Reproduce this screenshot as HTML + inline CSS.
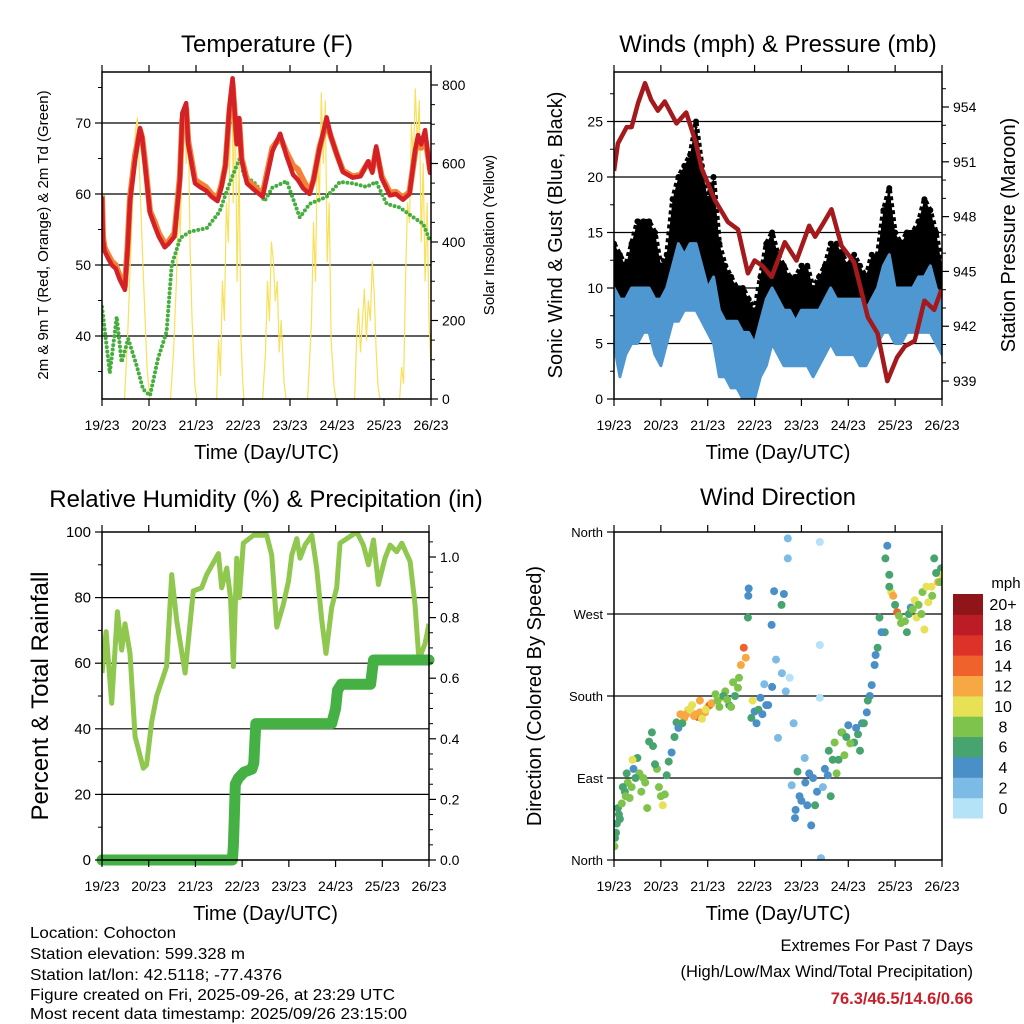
<!DOCTYPE html>
<html><head><meta charset="utf-8">
<style>
html,body{margin:0;padding:0;background:#fff;}
svg{display:block;font-family:"Liberation Sans",Arial,sans-serif;}
</style></head>
<body>
<svg id="fig" width="1024" height="1024" viewBox="0 0 1024 1024" xmlns="http://www.w3.org/2000/svg">
<rect width="1024" height="1024" fill="#fff"/>
<defs>
<clipPath id="c1"><rect x="102" y="72" width="329" height="327"/></clipPath>
<clipPath id="c2"><rect x="614" y="72" width="328" height="327"/></clipPath>
<clipPath id="c3"><rect x="102" y="532" width="327" height="328"/></clipPath>
<clipPath id="c4"><rect x="614" y="532" width="328" height="328"/></clipPath>
</defs>
<g id="layer"></g>
<text x="267" y="52" font-size="24" text-anchor="middle">Temperature (F)</text>
<text x="778" y="52" font-size="24" text-anchor="middle">Winds (mph) &amp; Pressure (mb)</text>
<text x="266" y="507" font-size="24" text-anchor="middle">Relative Humidity (%) &amp; Precipitation (in)</text>
<text x="778" y="505" font-size="24" text-anchor="middle">Wind Direction</text>
<g font-size="15.5">
<text x="30" y="938" textLength="146" lengthAdjust="spacingAndGlyphs">Location: Cohocton</text>
<text x="30" y="959" textLength="215" lengthAdjust="spacingAndGlyphs">Station elevation: 599.328 m</text>
<text x="30" y="980" textLength="252" lengthAdjust="spacingAndGlyphs">Station lat/lon: 42.5118; -77.4376</text>
<text x="30" y="1000" textLength="365" lengthAdjust="spacingAndGlyphs">Figure created on Fri, 2025-09-26, at 23:29 UTC</text>
<text x="30" y="1019" textLength="377" lengthAdjust="spacingAndGlyphs">Most recent data timestamp: 2025/09/26 23:15:00</text>
</g>
<g font-size="16.5" text-anchor="end">
<text x="973" y="951">Extremes For Past 7 Days</text>
<text x="973" y="977">(High/Low/Max Wind/Total Precipitation)</text>
<text x="973" y="1004" fill="#c8202a" font-weight="bold">76.3/46.5/14.6/0.66</text>
</g>
</svg>
<script>
// ---------- DATA ----------
const dayLabels = ["19/23","20/23","21/23","22/23","23/23","24/23","25/23","26/23"];
const tempTimes = [0,0.5,1.3,3,5,7,9,11.7,13,14.3,16.9,19.4,20.5,22,24.5,27,29,32,34,37,39.8,41,43,44,47.5,50,53,56,59,61,63,65,66.7,68.8,70,71.3,74,78,82,87,91,94,97.6,100,102.7,106,108,111,114.7,117,120,123,128,132,136,138,140,142.8,147,150,153.7,157,160,161.4,163,165,167.5,168];
const temp2m = [59.6,53.5,52,51,50,49.5,48,46.5,52,59,64.8,69.3,68,64,57.3,55.4,54,52.5,53,54,62,71.4,72.8,67,61.5,61,60.5,59.6,59,61,64,72,76.3,67,70.7,64.8,61.5,60.5,59.6,66,68.5,65.5,62.7,62,60.8,60,62,66.3,70.8,68,65.5,63.1,62.3,62.5,64.6,63,66.7,62.2,59.8,60,59.2,60,66.3,68.3,67,69,63,63];
const temp9m = [59.8,54,52.5,51.5,50.5,50,48.5,47,52.5,59.5,65.5,69,68,64.5,57.6,56,54.5,53,53.3,54.5,62.5,70.5,72,67.5,62,61.5,61,60,59.4,61.3,64,71.5,75.5,67.5,70.5,65,62,61,60,66.5,68,66,64,63.5,62,60.3,62,66.5,70,68,65.5,63.3,62.5,62.7,64.5,63.3,66.3,62.5,60.2,60.3,59.5,60.3,66,67.5,66.5,68,63.5,63.5];
const dewTimes = [0,4,7.5,10,13.4,17.7,21,24.5,28.6,33,35.6,40,45,53.5,60,63.7,67,71.3,72,79,83,87,94.3,101,106,114.7,121.5,128,135,140,145.4,152,159,164,167.5];
const dewVals = [44.1,34.8,42.7,36.3,39.6,35.8,32.5,31.6,36.8,40.6,50,53.8,54.7,55.2,57.5,60.4,62.8,65.6,62.8,61.3,59,60.9,61.8,56.7,58.6,59.6,61.7,61.5,61,61.7,58.6,58.1,56.7,55.8,53.4];
const solarTimes = [11.5,13,15,17,18,19,21,23,24.5, 35,36.5,38,39,40,41,42,43,44,45,46,47.5,48.5, 58.5,59.5,60.5,61.5,62.5,63.5,64.5,65.5,66.5,67,68,69,70,71,72,72.5, 82,83.5,84.5,85.5,86.5,87.5,88.5,89.5,90.5,91.5,93,94, 105,106,107,108,109,110,111,112,113,114,115,116,117,118.5,119.5, 129,130,131,132,133,134,135,136,137,138,139,140,141,142, 152,153,154,155,156,157,158,159,160,161,162,163,164,165,166,167,168];
const solarVals = [0,150,420,680,716,600,330,80,0, 0,120,300,500,420,650,740,600,720,380,200,30,0, 0,150,60,300,200,500,400,700,800,500,780,300,600,150,30,0, 0,120,300,200,400,350,250,300,120,200,40,0, 0,100,200,450,300,650,500,780,600,760,350,500,150,30,0, 0,150,230,120,200,280,150,250,200,350,270,120,30,0, 0,80,40,300,500,450,700,600,790,650,760,400,600,300,500,200,80];
const windTimes = [0,3,6,9,12,15,18,21,24,27,30,33,36,39,42,45,48,51,54,57,60,63,66,69,72,75,78,81,84,87,90,93,96,99,102,105,108,111,114,117,120,123,126,129,132,135,138,141,144,147,150,153,156,159,162,165,168];
const gustHi = [14,13,12,14,16,16,16,15,12,13,18,20,21,22,25,21,18,20,14,12,11,10,10,9,8,11,14,15,13,12,11,11,12,12,10,11,12,14,14,13,12,13,12,11,13,13,17,19,15,14,15,15,16,18,17,15,12];
const gustLo = [8,6,6,7,8,9,8,7,6,7,10,10,11,12,12,10,9,8,5,4,4,4,3,3,2,4,6,7,6,6,6,5,6,5,4,6,6,7,6,7,6,7,6,6,8,8,9,9,8,8,9,9,9,10,9,8,7];
const sustHi = [10,9,9,10,10,10,10,9,9,10,12,14,13,14,14,12,10,11,8,7,7,7,6,6,5,7,9,10,9,8,8,7,8,8,8,8,9,10,9,9,9,9,9,8,9,10,12,13,10,10,10,10,11,11,12,10,9];
const sustLo = [5,2,4,5,5,6,6,4,3,5,7,7,8,8,8,7,6,5,2,2,1,1,0,0,0,2,3,5,4,3,3,3,3,3,2,3,4,5,4,4,4,4,3,3,4,5,6,6,5,5,6,6,6,6,6,5,4];
const presTimes = [0,2,6.5,9,12.3,15.9,19,22.5,26,32,37,41.5,45,51.7,58.4,63.5,68.6,72,76,80.7,87.5,93.5,100,103,107,111.4,116.5,123,130,135,140,145,149,154,159,164,167.7];
const presVals = [950.5,952,952.9,952.9,954.2,955.3,954.4,953.8,954.3,953.1,953.7,952.2,950.6,948.9,947.7,947.3,944.9,945.6,945.3,944.7,946.6,945.6,947.5,946.9,947.6,948.4,946.4,945.5,942.5,941.6,939,940.3,940.9,941.2,943.4,942.9,944];
const rhTimes = [0,2.1,5,7.9,10.1,11.8,14.4,17,21.2,22.9,25.5,28.1,33.2,35.8,38.4,42.7,46.9,51.2,53.8,59.8,61.5,64.1,66,67.5,69.2,70.6,72.6,77.8,84.6,87.2,89.8,93.2,95.8,97.5,100.1,101.8,104.3,107.8,110.3,112.9,115.1,118,120.6,122.3,130.9,134.3,136.9,139.5,142,145.4,148,151.4,154,158.3,160.8,162.6,164,166,168];
const rhVals = [57,69.6,47.8,75.7,64,72,63,37.6,28,29,42,50,59,87,73,57,82,83,87,93.4,83,89,80,59,92,80,96.6,99,99,93,71,78,85,93,98,92,96,99,89,73,63,77,83,96.6,100,96,90,97.6,84,92,96,94,96.6,91,78,63,63,66,72];
const prTimes = [0,67,67.5,68,68.5,70,73,77,78,79,118,120,121,123,138,139.5,168];
const prVals = [0,0,0.05,0.15,0.25,0.27,0.29,0.30,0.32,0.45,0.45,0.5,0.56,0.58,0.58,0.66,0.66];
const dirTimes = [0.5,1,2,3,5.6,7,8,10,12,13,15,17,19.4,20,22,25,26,27,29.5,31,32,34,36,38,40,42,43,44,46.6,48,49,52,55,57,59,61,63.5,65,66.5,67.5,68.6,68.8,69,70.4,72,73,75,77,79,80.7,82,83,84,85.8,87,89,89,90,91,92,92.7,94,95,97.7,99,101,102,104,105.4,105.4,105.4,106,109.5,111,113,115,116.5,118,120,123,126,127,129.5,131,132,133.5,135,136,138.7,139,140,141,142,143,145,147,150,152,155,157.5,158,159,161,162.6,164,166,167.5,168,
  0.2,1.5,2.5,4,4.5,6,6.5,9,9.5,11,14,16,18,21,23,24,28,33,35,37,39,41,44,45,47,50,53,54,56,58,60,62,64,71,74,76,78,81,86,88,93,96,98,100,103,107,108,110,112,114,117,119,121,124,125,128,130,134,137,141,144,146,149,151,153,154,156,160,163,165,167];
const dirVals = [24,30,57,45,75,85,68,100,112,95,90,57,140,125,100,60,72,93,118,135,151,160,156,165,170,160,157,175,162,168,170,182,178,185,170,195,189,214,233,222,266,290,298,156,163,150,178,193,170,258,295,220,134,280,292,353,331,200,82,150,46,97,70,112,60,38,90,75,349,236,178,2,93,70,129,110,140,115,148,129,120,150,162,180,192,214,233,266,250,331,345,313,294,290,272,260,250,277,266,270,294,253,283,300,331,305,320,313,
  15,40,50,62,80,70,95,80,110,90,75,85,130,105,80,70,108,145,150,160,165,158,162,155,165,172,175,168,180,176,168,180,200,175,165,160,170,190,205,185,55,65,85,95,60,80,100,120,110,95,140,135,128,145,138,150,175,225,250,300,280,268,262,270,275,285,280,300,290,315,305];
const dirSpeed = [6,7,7,6,7,8,8,5,6,8,9,8,6,7,8,10,9,6,4,7,7,12,12,11,11,13,14,12,12,10,15,9,10,8,7,9,8,13,15,12,6,5,4,6,4,5,4,3,5,5,4,2,2,6,5,2,2,1,2,3,5,6,4,3,4,4,5,4,1,1,1,2,5,7,8,7,6,9,5,7,6,4,4,4,4,5,6,7,6,7,4,7,10,12,15,8,7,5,10,8,9,10,10,11,7,12,7,10,9,
  6,7,8,6,9,7,8,10,6,8,9,7,7,8,9,6,5,7,12,11,13,12,11,10,12,9,8,7,8,9,7,8,10,6,4,5,4,3,2,5,4,5,4,6,3,4,6,7,8,9,7,8,5,6,7,6,4,5,6,7,9,8,6,8,10,9,11,8,7,9,10];
const barLabels = ["0","2","4","6","8","10","12","14","16","18","20+"];
const barColors = ["#b4e2f7","#7cbbe5","#4a8fc7","#48a46f","#7ec34c","#e6e155","#f7a843","#f0622b","#dc3228","#bb1c25","#8f1519"];

// ---------- HELPERS ----------
const NS = "http://www.w3.org/2000/svg";
const layer = document.getElementById('layer');
function mk(tag, attrs, parent){
  const e = document.createElementNS(NS, tag);
  for (const k in attrs) e.setAttribute(k, attrs[k]);
  (parent||layer).appendChild(e);
  return e;
}
function txt(x,y,s,size,anchor,parent){
  const t = mk('text',{x:x,y:y,'font-size':size,'text-anchor':anchor||'middle'},parent);
  t.textContent = s; return t;
}
function linePath(ts, vs, xf, yf){
  return ts.map((t,i)=>(i?'L':'M')+xf(t).toFixed(1)+','+yf(vs[i]).toFixed(1)).join('');
}
function bandPath(ts, hi, lo, xf, yf){
  let d = ts.map((t,i)=>(i?'L':'M')+xf(t).toFixed(1)+','+yf(hi[i]).toFixed(1)).join('');
  for (let i=ts.length-1;i>=0;i--) d += 'L'+xf(ts[i]).toFixed(1)+','+yf(lo[i]).toFixed(1);
  return d+'Z';
}
function frame(x0,y0,x1,y1,name){
  const r = mk('rect',{x:x0,y:y0,width:x1-x0,height:y1-y0,fill:'none',stroke:'#000','stroke-width':1.5});
  
  
}
function xAxis(x0,x1,y0,y1,name){
  const g = mk('g',{});
  
  
  dayLabels.forEach((lab,i)=>{
    const x = x0 + i*(x1-x0)/7;
    mk('line',{x1:x,x2:x,y1:y1,y2:y1+7,stroke:'#000','stroke-width':1.2},g);
    mk('line',{x1:x,x2:x,y1:y0,y2:y0-7,stroke:'#000','stroke-width':1.2},g);
    txt(x, y1+31, lab, 14, 'middle', g);
  });
  txt((x0+x1)/2, y1+60, 'Time (Day/UTC)', 20, 'middle', g);
}
function grid(x0,x1,ys){
  ys.forEach(y=>{ const l = mk('line',{x1:x0,x2:x1,y1:y,y2:y,stroke:'#000','stroke-width':1.2});
      });
}
function yTicks(xEdge, side, vals, yf, labels, size){
  const g = mk('g',{});
  
  
  vals.forEach((v,i)=>{
    const y = yf(v);
    const dx = side==='left' ? -7 : 7;
    mk('line',{x1:xEdge,x2:xEdge+dx,y1:y,y2:y,stroke:'#000','stroke-width':1.2},g);
    txt(xEdge + (side==='left'?-11:11), y+5, labels[i], size||14, side==='left'?'end':'start', g);
  });
}
function minorTicks(xEdge, side, vals, yf){
  vals.forEach(v=>{ const y=yf(v); mk('line',{x1:xEdge,x2:xEdge+(side==='left'?-4:4),y1:y,y2:y,stroke:'#000','stroke-width':1}); });
}
function vlabel(x,y,s,size,name){
  const t = txt(0,0,s,size,'middle');
  t.setAttribute('transform','translate('+x+','+y+') rotate(-90)');
  
  
}

// ---------- PANEL 1: TEMPERATURE ----------
const x1f = h => 102 + h/168*329;
const yT = v => 194 - (v-60)*7.1;
const yS = v => 399 - v*0.3925;
grid(102,431,[40,50,60,70].map(yT));
const p1 = mk('g',{'clip-path':'url(#c1)'});
const solar = mk('path',{d:linePath(solarTimes,solarVals,x1f,yS),fill:'none',stroke:'#f8e05a','stroke-width':1.2,'stroke-linejoin':'round'},p1);


const dew = mk('path',{d:linePath(dewTimes,dewVals,x1f,yT),fill:'none',stroke:'#46ad3f','stroke-width':4,'stroke-dasharray':'0 4.5','stroke-linecap':'round'},p1);


const t9 = mk('path',{d:linePath(tempTimes,temp9m,x1f,yT),fill:'none',stroke:'#f58234','stroke-width':6,'stroke-linejoin':'round'},p1);


const t2 = mk('path',{d:linePath(tempTimes,temp2m,x1f,yT),fill:'none',stroke:'#d42128','stroke-width':4.5,'stroke-linejoin':'round'},p1);


frame(102,72,431,399,'temperature-plot-frame');
yTicks(102,'left',[40,50,60,70],yT,["40","50","60","70"]);
minorTicks(102,'left',[35,45,55,65,75],yT);
yTicks(431,'right',[0,200,400,600,800],yS,["0","200","400","600","800"]);
minorTicks(431,'right',[50,100,150,250,300,350,450,500,550,650,700,750],yS);
xAxis(102,431,72,399,'temperature-x-axis');
vlabel(48,235,'2m & 9m T (Red, Orange) & 2m Td (Green)',15,'temperature-y-axis-title');
vlabel(494,235,'Solar Insolation (Yellow)',15,'solar-y-axis-title');

// ---------- PANEL 2: WINDS ----------
const x2f = h => 614 + h/168*328;
const yW = v => 399 - v*11.1;
const yP = p => 107 + (954-p)*18.27;
grid(614,942,[5,10,15,20,25].map(yW));
const p2 = mk('g',{'clip-path':'url(#c2)'});
const gust = mk('path',{d:bandPath(windTimes,gustHi,gustLo,x2f,yW),fill:'#000',stroke:'#000','stroke-width':5,'stroke-linejoin':'round','stroke-dasharray':'4 3'},p2);


windTimes.forEach((t,i)=>{
  const c = mk('circle',{cx:x2f(t),cy:yW(gustHi[i]),r:3,fill:'#000'},p2);
  
  
});
const sust = mk('path',{d:bandPath(windTimes,sustHi,sustLo,x2f,yW),fill:'#4f97d1',stroke:'#4f97d1','stroke-width':3,'stroke-linejoin':'round'},p2);


const pres = mk('path',{d:linePath(presTimes,presVals,x2f,yP),fill:'none',stroke:'#a3191c','stroke-width':4.5,'stroke-linejoin':'round'},p2);


frame(614,72,942,399,'winds-plot-frame');
yTicks(614,'left',[0,5,10,15,20,25],yW,["0","5","10","15","20","25"]);
minorTicks(614,'left',[2.5,7.5,12.5,17.5,22.5,27.5],yW);
yTicks(942,'right',[939,942,945,948,951,954],yP,["939","942","945","948","951","954"]);
minorTicks(942,'right',[940,941,943,944,946,947,949,950,952,953,955],yP);
xAxis(614,942,72,399,'winds-x-axis');
vlabel(562,235,'Sonic Wind & Gust (Blue, Black)',20,'wind-y-axis-title');
vlabel(1015,235,'Station Pressure (Maroon)',20,'pressure-y-axis-title');

// ---------- PANEL 3: RH ----------
const x3f = h => 102 + h/168*327;
const yRH = v => 860 - v*3.28;
const yPr = v => 860 - v*303;
grid(102,429,[20,40,60,80].map(yRH));
const p3 = mk('g',{'clip-path':'url(#c3)'});
const rh = mk('path',{d:linePath(rhTimes,rhVals,x3f,yRH),fill:'none',stroke:'#8fc74f','stroke-width':5,'stroke-linejoin':'round'},p3);


const pr = mk('path',{d:linePath(prTimes,prVals,x3f,yPr),fill:'none',stroke:'#45b144','stroke-width':11,'stroke-linejoin':'round','stroke-linecap':'round'},mk('g',{},layer));


frame(102,532,429,860,'humidity-plot-frame');
yTicks(102,'left',[0,20,40,60,80,100],yRH,["0","20","40","60","80","100"],15);
minorTicks(102,'left',[10,30,50,70,90],yRH);
yTicks(429,'right',[0,0.2,0.4,0.6,0.8,1.0],yPr,["0.0","0.2","0.4","0.6","0.8","1.0"]);
minorTicks(429,'right',[0.05,0.1,0.15,0.25,0.3,0.35,0.45,0.5,0.55,0.65,0.7,0.75,0.85,0.9,0.95,1.05],yPr);
xAxis(102,429,532,860,'humidity-x-axis');
vlabel(48,696,'Percent & Total Rainfall',24,'humidity-y-axis-title');

// ---------- PANEL 4: WIND DIRECTION ----------
const x4f = h => 614 + h/168*328;
const yD = d => 860 - d/360*328;
grid(614,942,[90,180,270].map(yD));
const p4 = mk('g',{'clip-path':'url(#c4)'});
dirTimes.forEach((t,i)=>{
  const bin = Math.min(10, Math.floor(dirSpeed[i]/2));
  const c = mk('circle',{cx:x4f(t).toFixed(1),cy:yD(dirVals[i]).toFixed(1),r:4,fill:barColors[bin]},p4);
  
  
});
frame(614,532,942,860,'direction-plot-frame');
yTicks(614,'left',[0,90,180,270,360],yD,["North","East","South","West","North"],13);
xAxis(614,942,532,860,'direction-x-axis');
vlabel(541,696,'Direction (Colored By Speed)',20,'direction-y-axis-title');
// colorbar
const cb = mk('g',{});


const bh = (818-594)/11;
barLabels.forEach((lab,i)=>{
  const y = 818 - (i+1)*bh;
  const r = mk('rect',{x:953,y:y.toFixed(1),width:30,height:(bh+0.5).toFixed(1),fill:barColors[i]},cb);
  
  
  txt(1003, y+bh/2+6, lab, 16, 'middle', cb);
});
txt(1006, 588, 'mph', 15, 'middle', cb);
</script>
</body></html>
